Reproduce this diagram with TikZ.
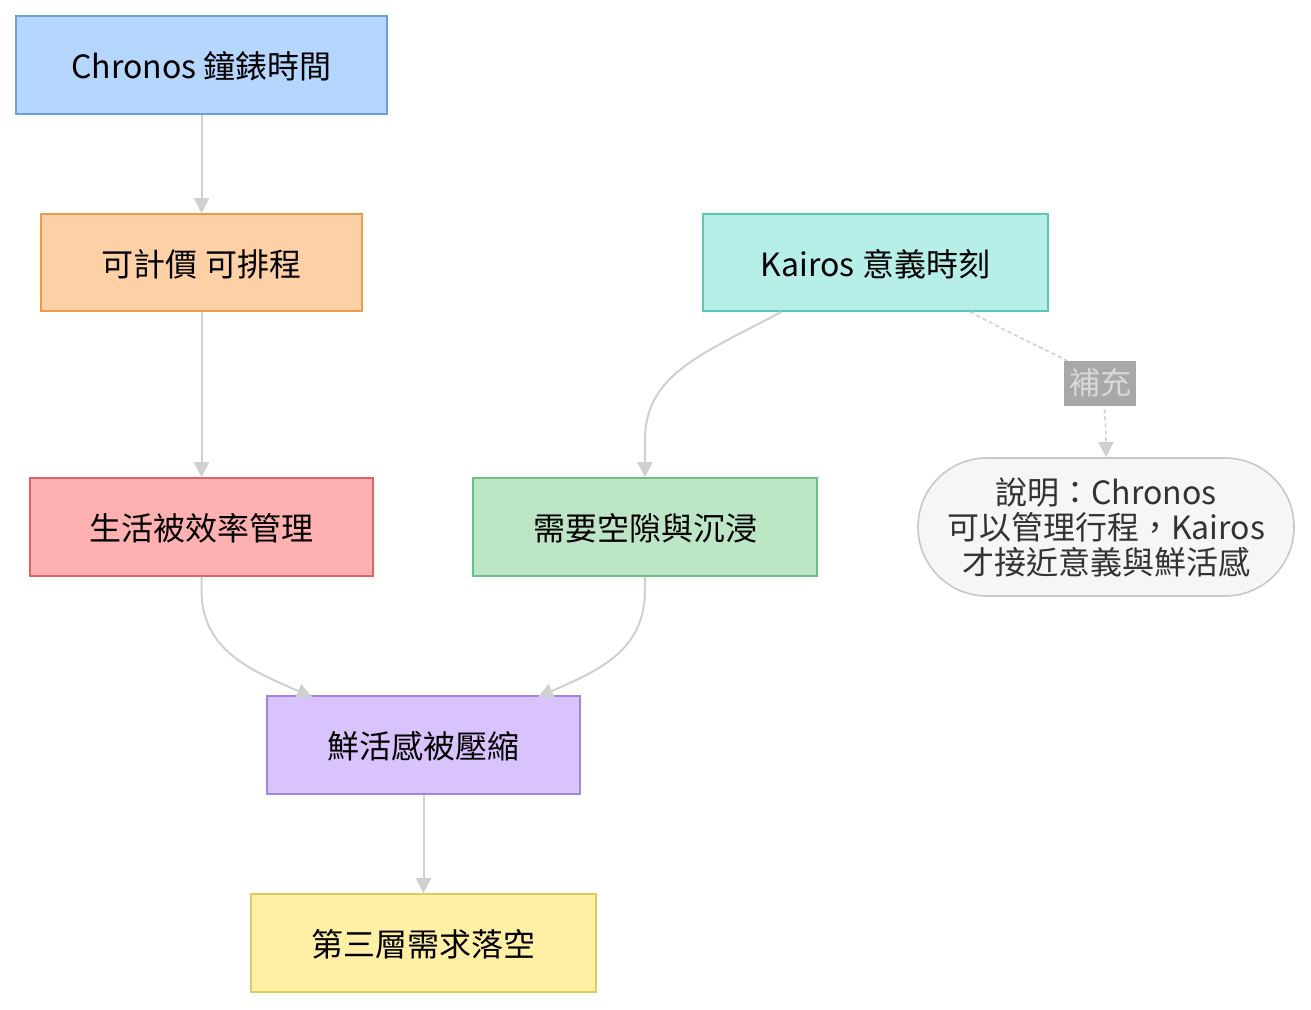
\documentclass[tikz,border=0pt]{standalone}
\usepackage{fontspec}
\setmainfont{Noto Sans CJK TC}
\usetikzlibrary{arrows.meta,calc}
\definecolor{edgegray}{HTML}{D0D0D0}
\definecolor{fblue}{HTML}{B5D6FD}\definecolor{dblue}{HTML}{6A9FE0}
\definecolor{forange}{HTML}{FED0A6}\definecolor{dorange}{HTML}{EE9A4D}
\definecolor{fteal}{HTML}{B5EFE8}\definecolor{dteal}{HTML}{5CC6B8}
\definecolor{fred}{HTML}{FFB0B0}\definecolor{dred}{HTML}{E06464}
\definecolor{fgreen}{HTML}{BDE6C7}\definecolor{dgreen}{HTML}{6CBF86}
\definecolor{fnote}{HTML}{F6F6F6}\definecolor{dnote}{HTML}{C8C8C8}\definecolor{tnote}{HTML}{333333}
\definecolor{fpurple}{HTML}{D9C3FD}\definecolor{dpurple}{HTML}{A484E0}
\definecolor{fyellow}{HTML}{FFF0A6}\definecolor{dyellow}{HTML}{E0CC5C}
\definecolor{flbl}{HTML}{A8A8A8}\definecolor{tlbl}{HTML}{D8D8D8}
\tikzset{
  box/.style={draw, line width=1.6pt, inner sep=0pt, align=center, font=\fontsize{32}{35}\selectfont, text=black},
  onebox/.style={box, text height=30pt, text depth=3pt},
  conn/.style={draw=edgegray, line width=2pt, -{Triangle[length=15pt,width=15pt]}, edgegray},
  dconn/.style={draw=edgegray, line width=1.6pt, dash pattern=on 4pt off 3pt, -{Triangle[length=15pt,width=15pt]}, edgegray},
}
\begin{document}
\begin{tikzpicture}[x=1pt,y=-1pt]
\useasboundingbox[fill=white] (0,0) rectangle (1311,1009);
\node[onebox, fill=fblue, draw=dblue, minimum width=371pt, minimum height=98pt] (chronos) at (201.5,65) {Chronos 鐘錶時間};
\node[onebox, fill=forange, draw=dorange, minimum width=321pt, minimum height=97pt] (price) at (201.5,262.5) {可計價 可排程};
\node[onebox, fill=fteal, draw=dteal, minimum width=345pt, minimum height=97pt] (kairos) at (875.5,262.5) {Kairos 意義時刻};
\node[onebox, fill=fred, draw=dred, minimum width=343pt, minimum height=98pt] (life) at (201.5,527) {生活被效率管理};
\node[onebox, fill=fgreen, draw=dgreen, minimum width=344pt, minimum height=98pt] (need) at (645,527) {需要空隙與沉浸};
\node[box, fill=fnote, draw=dnote, text=tnote, minimum width=376pt, minimum height=138pt, rounded corners=68.9pt] (note) at (1106,527) {說明：Chronos\\可以管理行程，Kairos\\才接近意義與鮮活感};
\node[onebox, fill=fpurple, draw=dpurple, minimum width=313pt, minimum height=98pt] (vivid) at (423.5,745) {鮮活感被壓縮};
\node[onebox, fill=fyellow, draw=dyellow, minimum width=345pt, minimum height=98pt] (third) at (423.5,943) {第三層需求落空};

\draw[conn] (chronos) -- (price);
\draw[conn] (price) -- (life);
\draw[conn] (vivid) -- (third);
\draw[conn] ($(kairos.south west)!0.229!(kairos.south east)$) .. controls (700,355) and (645,375) .. (645,440) -- (need.north);
\draw[conn] (life.south) -- (201.5,590) .. controls (201.5,650) and (250,670) .. (312,697);
\draw[conn] (need.south) -- (645,590) .. controls (645,650) and (600,670) .. (538,697);
\coordinate (lblpt) at (1100,383);
\draw[dconn] ($(kairos.south west)!0.774!(kairos.south east)$) .. controls (1040,350) and (1085,365) .. (lblpt) .. controls (1104,400) and (1106,420) .. (note.north);
\node[fill=flbl, text=tlbl, inner sep=0pt, minimum width=72pt, minimum height=45pt, font=\fontsize{31}{35}\selectfont] (lbl) at (lblpt) {補充};
\end{tikzpicture}
\end{document}
